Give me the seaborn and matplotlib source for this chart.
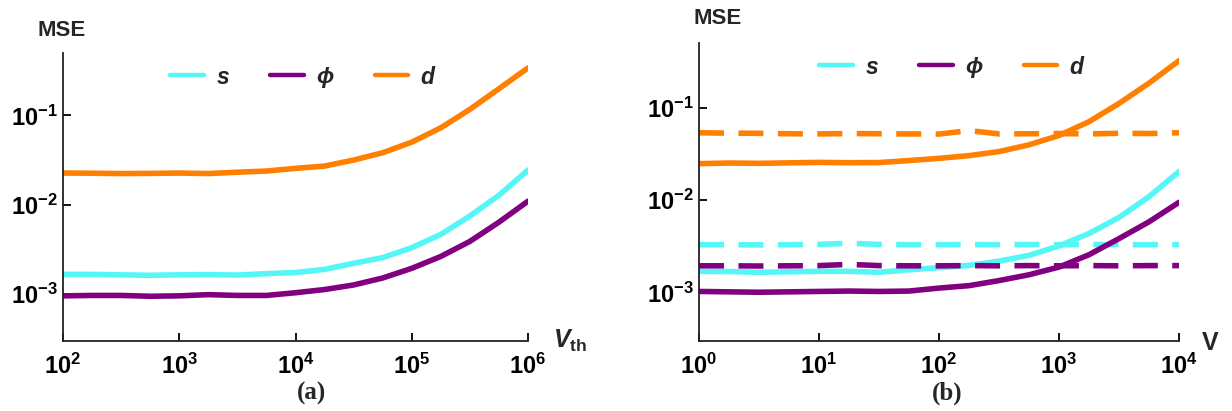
import numpy as np
import pandas as pd
import seaborn as sns
import matplotlib.pyplot as plt
from matplotlib.lines import Line2D
from matplotlib.ticker import FuncFormatter, LogLocator, NullLocator
from matplotlib.font_manager import FontProperties

# ---- data ----
# panel (a): MSE against V_th (quarter-decade grid)
vth = [1e2, 1.78e2, 3.16e2, 5.62e2, 1e3, 1.78e3, 3.16e3, 5.62e3, 1e4,
       1.78e4, 3.16e4, 5.62e4, 1e5, 1.78e5, 3.16e5, 5.62e5, 1e6]
a_s = [0.00167, 0.00167, 0.00165, 0.00163, 0.00165, 0.00166, 0.00164, 0.00170, 0.00175,
       0.00190, 0.00222, 0.00257, 0.00332, 0.00468, 0.0075, 0.0128, 0.0245]
a_phi = [0.00096, 0.00097, 0.00097, 0.00095, 0.00096, 0.00099, 0.00097, 0.00097, 0.00104,
         0.00113, 0.00127, 0.00152, 0.00195, 0.00265, 0.0039, 0.0064, 0.0110]
a_d = [0.0227, 0.0226, 0.0224, 0.0225, 0.0227, 0.0224, 0.0232, 0.0239, 0.0256,
       0.0272, 0.0317, 0.0383, 0.0503, 0.0728, 0.117, 0.199, 0.341]

# panel (b): MSE against V, solid and dashed
v = [1, 1.78, 3.16, 5.62, 10, 17.8, 31.6, 56.2, 100,
     178, 316, 562, 1000, 1778, 3162, 5623, 10000]
b_s = [0.00170, 0.00169, 0.00166, 0.00168, 0.00170, 0.00170, 0.00166, 0.00177, 0.00186,
       0.00197, 0.00219, 0.00253, 0.00320, 0.00436, 0.0065, 0.0109, 0.0204]
b_phi = [0.00103, 0.00102, 0.00101, 0.00102, 0.00103, 0.00104, 0.00103, 0.00104, 0.00112,
         0.00119, 0.00135, 0.00156, 0.00189, 0.00257, 0.00384, 0.00583, 0.00947]
b_d = [0.0248, 0.0252, 0.0250, 0.0253, 0.0256, 0.0254, 0.0255, 0.0268, 0.0283,
       0.0303, 0.0335, 0.0396, 0.050, 0.0705, 0.111, 0.184, 0.322]
b_s_dash = [0.00330, 0.00330, 0.00328, 0.00330, 0.00332, 0.00342, 0.00332, 0.00330, 0.00330,
            0.00331, 0.00330, 0.00331, 0.00330, 0.00331, 0.00330, 0.00330, 0.00331]
b_phi_dash = [0.00195, 0.00195, 0.00194, 0.00195, 0.00196, 0.00202, 0.00196, 0.00195, 0.00195,
              0.00196, 0.00195, 0.00196, 0.00195, 0.00196, 0.00195, 0.00196, 0.00196]
b_d_dash = [0.0535, 0.0530, 0.0528, 0.0522, 0.0520, 0.0525, 0.0522, 0.0520, 0.0518,
            0.0565, 0.0520, 0.0522, 0.0525, 0.0520, 0.0528, 0.0525, 0.0535]

names = ['s', 'phi', 'd']
colors = {'s': '#55F6F6', 'phi': '#800080', 'd': '#FF8000'}
legend_labels = ['s', '\u03d5', 'd']

df_a = pd.DataFrame({
    'x': vth * 3,
    'mse': a_s + a_phi + a_d,
    'var': ['s'] * 17 + ['phi'] * 17 + ['d'] * 17,
})
df_b = pd.DataFrame({
    'x': v * 6,
    'mse': b_s + b_phi + b_d + b_s_dash + b_phi_dash + b_d_dash,
    'var': (['s'] * 17 + ['phi'] * 17 + ['d'] * 17) * 2,
    'kind': ['solid'] * 51 + ['dashed'] * 51,
})

sns.set_style('ticks', {'xtick.direction': 'in', 'ytick.direction': 'in'})
plt.rcParams['font.family'] = ['Liberation Sans', 'DejaVu Sans']
plt.rcParams['mathtext.fontset'] = 'custom'
plt.rcParams['mathtext.rm'] = 'Liberation Sans:bold'
plt.rcParams['mathtext.bf'] = 'Liberation Sans:bold'
plt.rcParams['mathtext.it'] = 'Liberation Sans:bold:italic'
plt.rcParams['mathtext.bfit'] = 'Liberation Sans:bold:italic'

fig = plt.figure(figsize=(12.32, 4.11), dpi=100)
ax_a = fig.add_axes([63 / 1232, 1 - 341 / 411, (528 - 63) / 1232, (341 - 53) / 411])
ax_b = fig.add_axes([699 / 1232, 1 - 341 / 411, (1179 - 699) / 1232, (341 - 43) / 411])

LW = 4.0
sns.lineplot(data=df_a, x='x', y='mse', hue='var', hue_order=names, palette=colors,
             linewidth=LW, legend=False, ax=ax_a)
sns.lineplot(data=df_b, x='x', y='mse', hue='var', hue_order=names, palette=colors,
             style='kind', style_order=['solid', 'dashed'],
             dashes={'solid': '', 'dashed': (4.5, 2.6)},
             linewidth=LW, legend=False, ax=ax_b)

fmt = FuncFormatter(lambda val, pos: r'$\mathbf{10^{%d}}$' % int(round(np.log10(val))))
leg_font = FontProperties(family=['Liberation Sans', 'DejaVu Sans'], weight='bold',
                          style='italic', size=16.5)

for ax, xlim in [(ax_a, (1e2, 1e6)), (ax_b, (1, 1e4))]:
    ax.set_xscale('log')
    ax.set_yscale('log')
    ax.set_xlim(*xlim)
    ax.set_ylim(3e-4, 0.5)
    ax.xaxis.set_major_locator(LogLocator(base=10, numticks=10))
    ax.xaxis.set_minor_locator(NullLocator())
    ax.yaxis.set_minor_locator(NullLocator())
    ax.set_yticks([1e-3, 1e-2, 1e-1])
    ax.xaxis.set_major_formatter(fmt)
    ax.yaxis.set_major_formatter(fmt)
    ax.set_xlabel('')
    ax.set_ylabel('')
    sns.despine(ax=ax)
    ax.tick_params(axis='both', which='major', direction='in', length=6, width=1.3,
                   labelsize=17, colors='black', bottom=True, left=True)
    ax.tick_params(axis='x', pad=9)
    ax.tick_params(axis='y', pad=4)
    for side in ['left', 'bottom']:
        ax.spines[side].set_linewidth(1.3)
        ax.spines[side].set_color('#222222')

    handles = [Line2D([], [], color=colors[n], lw=3.2) for n in names]
    ax.legend(handles, legend_labels, prop=leg_font, ncol=3, frameon=False,
              handlelength=1.45, handletextpad=0.55, columnspacing=1.8,
              borderpad=0, loc='center left',
              bbox_to_anchor=(159 / 1232 if ax is ax_a else 808 / 1232,
                              1 - (77 if ax is ax_a else 67) / 411),
              bbox_transform=fig.transFigure)

# axis titles
fig.text(62 / 1232, 1 - 30 / 411, 'MSE', ha='center', va='center', fontsize=16, weight='bold')
fig.text(718 / 1232, 1 - 19 / 411, 'MSE', ha='center', va='center', fontsize=16, weight='bold')
ax_a.annotate(r'$\mathbfit{V}_{\mathbf{th}}$', xy=(1, 0), xycoords='axes fraction',
              xytext=(25, -7), textcoords='offset pixels', ha='left', va='baseline', fontsize=18)
ax_b.annotate('V', xy=(1, 0), xycoords='axes fraction',
              xytext=(23, -9), textcoords='offset pixels', ha='left', va='baseline',
              fontsize=18, weight='bold')

# panel captions
fig.text(311 / 1232, 1 - 393 / 411, '(a)', ha='center', va='center', fontsize=18,
         weight='bold', family='Liberation Serif')
fig.text(947 / 1232, 1 - 393 / 411, '(b)', ha='center', va='center', fontsize=18,
         weight='bold', family='Liberation Serif')

fig.savefig('out.png', dpi=100)
